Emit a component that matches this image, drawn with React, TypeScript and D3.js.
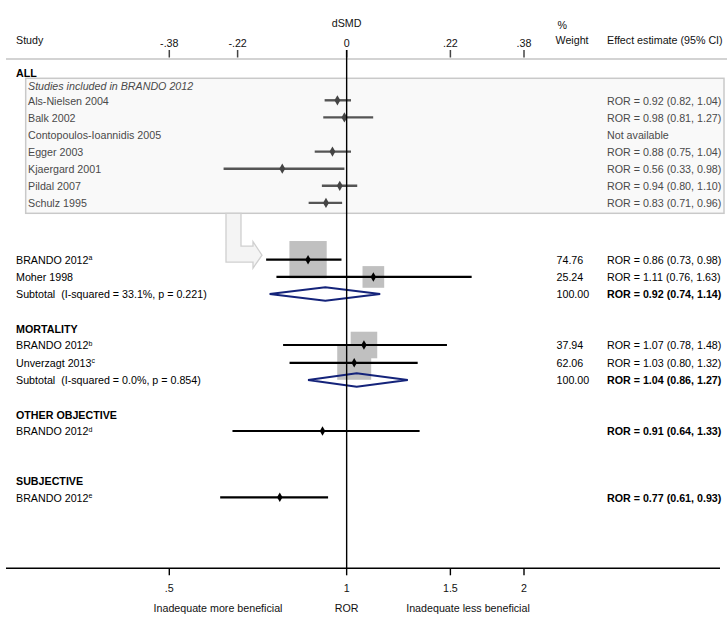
import React from "react";
import * as d3 from "d3";

const W = 727;
const H = 619;
const FONT = "'Liberation Sans', Arial, Helvetica, sans-serif";
const FS = 10.7;

// ---- Top (dSMD) axis ----
const topTickLabels = ["-.38", "-.22", "0", ".22", ".38"];
const topTickRor = [0.5, 0.653, 1, 1.5, 2];

// ---- Bottom (ROR) axis ----
const bottomTicks = [0.5, 1, 1.5, 2];
const bottomTickLabels = [".5", "1", "1.5", "2"];

// ---- Studies included in BRANDO 2012 (inner box) ----
const boxStudies = [
  "Als-Nielsen 2004",
  "Balk 2002",
  "Contopoulos-Ioannidis 2005",
  "Egger 2003",
  "Kjaergard 2001",
  "Pildal 2007",
  "Schulz 1995",
];
const boxEst: (number | null)[] = [0.92, 0.98, null, 0.88, 0.56, 0.94, 0.83];
const boxLo: (number | null)[] = [0.82, 0.81, null, 0.75, 0.33, 0.8, 0.71];
const boxHi: (number | null)[] = [1.04, 1.27, null, 1.04, 0.98, 1.1, 0.96];

// ---- Main studies ----
const studyNames = ["BRANDO 2012", "Moher 1998", "BRANDO 2012", "Unverzagt 2013", "BRANDO 2012", "BRANDO 2012"];
const studySup = ["a", "", "b", "c", "d", "e"];
const studyEst = [0.86, 1.11, 1.07, 1.03, 0.91, 0.77];
const studyLo = [0.73, 0.76, 0.78, 0.8, 0.64, 0.61];
const studyHi = [0.98, 1.63, 1.48, 1.32, 1.33, 0.93];
const studyWeight: (number | null)[] = [74.76, 25.24, 37.94, 62.06, null, null];
const studyBold = [false, false, false, false, true, true];
const studySlot = [9.32, 10.33, 14.31, 15.35, 19.34, 23.22];

// ---- Subtotals ----
const subLabels = ["Subtotal  (I-squared = 33.1%, p = 0.221)", "Subtotal  (I-squared = 0.0%, p = 0.854)"];
const subEst = [0.92, 1.04];
const subLo = [0.74, 0.86];
const subHi = [1.14, 1.27];
const subWeight = ["100.00", "100.00"];
const subSlot = [11.33, 16.36];

// ---- Group headers ----
const groupLabels = ["ALL", "MORTALITY", "OTHER OBJECTIVE", "SUBJECTIVE"];
const groupSlot = [-1.6, 13.37, 18.4, 22.25];

const fmt = d3.format(".2f");
const ror = (e: number, l: number, h: number) => `ROR = ${fmt(e)} (${fmt(l)}, ${fmt(h)})`;

export default function App() {
  const x = d3.scaleLog().domain([0.5, 2]).range([169.3, 524]);
  const cx = x(1);
  const xi = d3
    .scaleLog()
    .domain([0.5, 2])
    .range([cx - 111 * Math.LN2, cx + 111 * Math.LN2]);
  const y = d3.scaleLinear().domain([0, 6]).range([100.3, 202.9]);
  const sqK = 37.3 / Math.sqrt(74.76);

  const colWeight = 556.5;
  const colEffect = 607;
  const labelX = 16;
  const boxLabelX = 28;
  const topLineY = 59;
  const axisY = 568.3;
  const base = 4.2;

  const boxTop = 78.3;
  const boxBottom = y(6) + 10.4;
  const boxLeft = 25.7;
  const boxRight = 724;

  const diamondSym = d3.symbol().type(d3.symbolDiamond).size(30)();
  const diamondSymSmall = d3.symbol().type(d3.symbolDiamond).size(26)();

  // decorative arrow from box to BRANDO 2012a
  const ay = y(studySlot[0]);
  const arrow = [
    [226, boxBottom],
    [241, boxBottom],
    [241, ay - 13.5],
    [253, ay - 13.5],
    [253, ay - 18],
    [262, ay - 4.5],
    [253, ay + 8.5],
    [253, ay + 2.5],
    [226, ay + 2.5],
  ];

  return (
    <svg
      width={W}
      height={H}
      viewBox={`0 0 ${W} ${H}`}
      style={{ position: "absolute", left: 0, top: 0, display: "block", background: "#fff" }}
      fontFamily={FONT}
      fontSize={FS}
    >
      <rect width={W} height={H} fill="#fff" />

      {/* Header */}
      <text x={cx} y={27} textAnchor="middle" fill="#111">dSMD</text>
      <text x={labelX} y={44} fill="#111">Study</text>
      <text x={colWeight + 1} y={29} fill="#111">%</text>
      <text x={colWeight - 1} y={44} fill="#111">Weight</text>
      <text x={colEffect} y={44} fill="#111">Effect estimate (95% CI)</text>
      {topTickRor.map((v, i) => (
        <g key={"tt" + i}>
          <line x1={x(v)} x2={x(v)} y1={50} y2={57.5} stroke="#444" strokeWidth={1.5} />
          <text x={x(v)} y={46.5} textAnchor="middle" fill="#111">{topTickLabels[i]}</text>
        </g>
      ))}
      <line x1={6} x2={727} y1={topLineY} y2={topLineY} stroke="#c4c4c4" strokeWidth={1.3} />

      {/* Inner box */}
      <rect x={boxLeft} y={boxTop} width={boxRight - boxLeft} height={boxBottom - boxTop} fill="#f9f9f9" stroke="#c9c9c9" strokeWidth={1.5} />
      <polygon points={arrow.map((p) => p.join(",")).join(" ")} fill="#f4f4f4" stroke="#cfcfcf" strokeWidth={1.3} />

      <text x={boxLabelX} y={y(-0.85) + base} fill="#4a4a4a" fontStyle="italic">Studies included in BRANDO 2012</text>
      {boxStudies.map((s, i) => {
        const yy = y(i);
        const e = boxEst[i];
        const l = boxLo[i];
        const h = boxHi[i];
        return (
          <g key={"b" + i}>
            <text x={boxLabelX} y={yy + base} fill="#4a4a4a">{s}</text>
            <text x={colEffect} y={yy + base} fill="#4a4a4a">
              {e != null && l != null && h != null ? ror(e, l, h) : "Not available"}
            </text>
            {e != null && l != null && h != null && (
              <g>
                <line x1={xi(l)} x2={xi(h)} y1={yy} y2={yy} stroke="#555" strokeWidth={2.4} />
                <path d={diamondSym} transform={`translate(${xi(e)},${yy})`} fill="#444" />
              </g>
            )}
          </g>
        );
      })}

      {/* Group headers */}
      {groupLabels.map((g, i) => (
        <text key={"g" + i} x={labelX} y={y(groupSlot[i]) + base} fontWeight="bold" fill="#000">{g}</text>
      ))}

      {/* Weight squares */}
      {studyWeight.map((w, i) => {
        if (w == null) return null;
        const s = sqK * Math.sqrt(w);
        const yy = y(studySlot[i]);
        return <rect key={"sq" + i} x={x(studyEst[i]) - s / 2} y={yy - s / 2} width={s} height={s} fill="#c0c0c0" />;
      })}

      {/* Study rows */}
      {studyNames.map((n, i) => {
        const yy = y(studySlot[i]);
        return (
          <g key={"s" + i}>
            <text x={labelX} y={yy + base} fill="#000">
              {n}
              {studySup[i] && (
                <tspan fontSize={7} dy={-3.5}>{studySup[i]}</tspan>
              )}
            </text>
            {studyWeight[i] != null && (
              <text x={colWeight} y={yy + base} fill="#000">{fmt(studyWeight[i] as number)}</text>
            )}
            <text x={colEffect} y={yy + base} fill="#000" fontWeight={studyBold[i] ? "bold" : "normal"}>
              {ror(studyEst[i], studyLo[i], studyHi[i])}
            </text>
            <line x1={x(studyLo[i])} x2={x(studyHi[i])} y1={yy} y2={yy} stroke="#000" strokeWidth={2.2} />
            <path d={diamondSymSmall} transform={`translate(${x(studyEst[i])},${yy})`} fill="#000" />
          </g>
        );
      })}

      {/* Subtotals */}
      {subLabels.map((s, i) => {
        const yy = y(subSlot[i]);
        const hh = 6.7;
        const pts = [
          [x(subLo[i]), yy],
          [x(subEst[i]), yy - hh],
          [x(subHi[i]), yy],
          [x(subEst[i]), yy + hh],
        ];
        return (
          <g key={"st" + i}>
            <text x={labelX} y={yy + base} fill="#000" style={{ whiteSpace: "pre" }}>{s}</text>
            <text x={colWeight} y={yy + base} fill="#000">{subWeight[i]}</text>
            <text x={colEffect} y={yy + base} fill="#000" fontWeight="bold">{ror(subEst[i], subLo[i], subHi[i])}</text>
            <polygon points={pts.map((p) => p.join(",")).join(" ")} fill="none" stroke="#14237a" strokeWidth={2} strokeLinejoin="miter" />
          </g>
        );
      })}

      {/* Null line */}
      <line x1={cx} x2={cx} y1={50} y2={axisY} stroke="#000" strokeWidth={1.4} />

      {/* Bottom axis */}
      <line x1={6} x2={720} y1={axisY} y2={axisY} stroke="#000" strokeWidth={1.4} />
      {bottomTicks.map((v, i) => (
        <g key={"bt" + i}>
          <line x1={x(v)} x2={x(v)} y1={axisY} y2={axisY + 7} stroke="#000" strokeWidth={1.4} />
          <text x={x(v)} y={592} textAnchor="middle" fill="#111">{bottomTickLabels[i]}</text>
        </g>
      ))}
      <text x={218} y={611.5} textAnchor="middle" fill="#111">Inadequate more beneficial</text>
      <text x={cx} y={611.5} textAnchor="middle" fill="#111">ROR</text>
      <text x={468} y={611.5} textAnchor="middle" fill="#111">Inadequate less beneficial</text>
    </svg>
  );
}
